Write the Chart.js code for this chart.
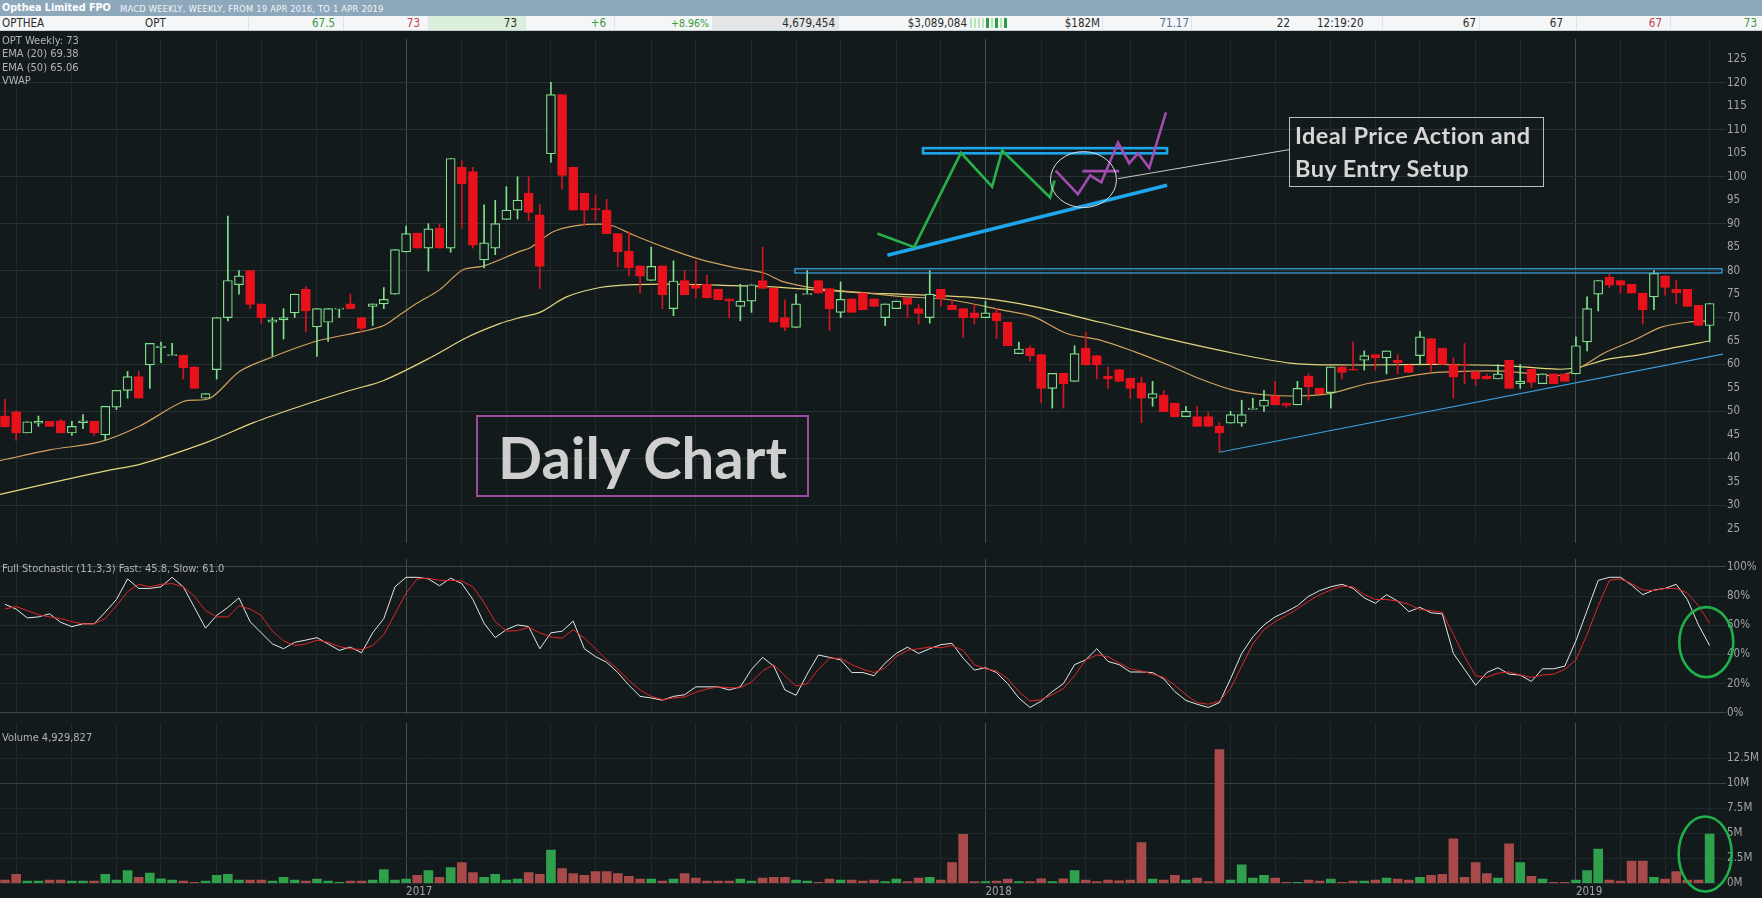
<!DOCTYPE html>
<html>
<head>
<meta charset="utf-8">
<title>Opthea Limited FPO - weekly</title>
<script src="https://cdn.jsdelivr.net/npm/chart.js@4.4.1/dist/chart.umd.min.js"></script>
<style>
  html, body { margin: 0; padding: 0; background: #131a1c; }
  #page { position: relative; width: 1762px; height: 898px; overflow: hidden; background: #131a1c;
          font-family: 'DejaVu Sans Condensed', 'Liberation Sans Narrow', 'Liberation Sans', sans-serif; }
  canvas { position: absolute; left: 0; }
  #mainChart { top: 31px; }
  #stochChart { top: 551px; }
  #volChart { top: 715px; }

  /* ---------- header ---------- */
  .hdr1 { position: absolute; left: 0; top: 0; width: 1762px; height: 16px; background: #8ea8bb; }
  .hdr1 .name { position: absolute; left: 2px; top: 0; line-height: 16px; font-size: 10.7px; font-weight: bold; color: #fff; }
  .hdr1 .sub { position: absolute; left: 120px; top: 1px; line-height: 16px; font-size: 9.3px; color: #f2f5f7; letter-spacing: 0.2px; }
  .hdr2 { position: absolute; left: 0; top: 16px; width: 1762px; height: 15px; background: #f4f6f7; border-bottom: 1px solid #c6ccd1; box-sizing: border-box; }
  .cell { position: absolute; top: 0; height: 14px; line-height: 14px; font-size: 11.5px; color: #2b2b2b;
          text-align: right; box-sizing: border-box; white-space: nowrap; border-left: 1px solid #dfe3e6; }
  .cell.l { text-align: left; border-left: none; }
  .g { color: #3a9a3c; }
  .r { color: #c2404f; }
  .spark { position: absolute; top: 2px; width: 2px; height: 10px; }

  /* ---------- panel texts ---------- */
  .lbl { position: absolute; left: 2px; font-size: 11px; line-height: 12px; color: #b3b3b3; white-space: nowrap; }

  /* ---------- annotation boxes ---------- */
  .daily { position: absolute; left: 476px; top: 415px; width: 333px; height: 82px; box-sizing: border-box;
           border: 2px solid #9b4c9d; display: flex; align-items: center; justify-content: center;
           font-family: Lato, 'Open Sans', sans-serif; font-weight: bold; font-size: 58px; color: #cfcfcf; }
  .ideal { position: absolute; left: 1289px; top: 117px; width: 255px; height: 70px; box-sizing: border-box;
           border: 1px solid #bdbdbd; padding: 1px 0 0 5px; letter-spacing: 0.4px;
           font-family: Lato, 'Open Sans', sans-serif; font-weight: bold; font-size: 23.5px; line-height: 32.5px; color: #d6d6d6; }
</style>
</head>
<body>
<div id="page">
  <canvas id="mainChart" width="1762" height="520"></canvas>
  <canvas id="volChart" width="1762" height="183"></canvas>
  <canvas id="stochChart" width="1762" height="171"></canvas>

  <div class="hdr1">
    <span class="name">Opthea Limited FPO</span>
    <span class="sub">MACD WEEKLY, WEEKLY, FROM 19 APR 2016, TO 1 APR 2019</span>
  </div>
  <div class="hdr2">
    <div class="cell l" style="left:2px;width:144px;">OPTHEA</div>
    <div class="cell l" style="left:145px;width:102px;">OPT</div>
    <div class="cell g" style="left:248px;width:95px;padding-right:8px;">67.5</div>
    <div class="cell r" style="left:343px;width:85px;padding-right:8px;">73</div>
    <div class="cell" style="left:428px;width:97px;padding-right:8px;background:#dcefdc;">73</div>
    <div class="cell g" style="left:525px;width:89px;padding-right:8px;">+6</div>
    <div class="cell g" style="left:614px;width:98px;padding-right:3px;font-size:10.5px;">+8.96%</div>
    <div class="cell" style="left:712px;width:126px;padding-right:3px;background:#e4e6e7;">4,679,454</div>
    <div class="cell" style="left:838px;width:131px;padding-right:2px;">$3,089,084</div>
    <div class="cell" style="left:1009px;width:93px;padding-right:2px;border-left:none;">$182M</div>
    <div class="cell" style="left:1102px;width:89px;padding-right:2px;color:#55708c;">71.17</div>
    <div class="cell" style="left:1191px;width:102px;padding-right:3px;">22</div>
    <div class="cell l" style="left:1317px;width:65px;">12:19:20</div>
    <div class="cell" style="left:1382px;width:97px;padding-right:3px;">67</div>
    <div class="cell" style="left:1479px;width:97px;padding-right:13px;">67</div>
    <div class="cell r" style="left:1576px;width:94px;padding-right:8px;">67</div>
    <div class="cell g" style="left:1670px;width:92px;padding-right:5px;">73</div>
    <span class="spark" style="left:970px;background:#b9e4b9;"></span>
    <span class="spark" style="left:974px;background:#b9e4b9;"></span>
    <span class="spark" style="left:978px;background:#b9e4b9;"></span>
    <span class="spark" style="left:982px;background:#b9e4b9;"></span>
    <span class="spark" style="left:986px;width:3px;background:#2c9e48;"></span>
    <span class="spark" style="left:991px;background:#b9e4b9;"></span>
    <span class="spark" style="left:995px;width:3px;background:#2c9e48;"></span>
    <span class="spark" style="left:1000px;background:#b9e4b9;"></span>
    <span class="spark" style="left:1004px;width:3px;background:#2c9e48;"></span>
  </div>

  <div class="lbl" style="top:35px;">OPT Weekly: 73</div>
  <div class="lbl" style="top:48px;">EMA (20) 69.38</div>
  <div class="lbl" style="top:61.5px;">EMA (50) 65.06</div>
  <div class="lbl" style="top:75px;">VWAP</div>
  <div class="lbl" style="top:563px;">Full Stochastic (11,3,3) Fast: 45.8, Slow: 61.0</div>
  <div class="lbl" style="top:732px;">Volume 4,929,827</div>

  <div class="daily">Daily Chart</div>
  <div class="ideal">Ideal Price Action and<br>Buy Entry Setup</div>
</div>

<script>
// =========================================================
// OPT weekly — candles, EMAs, full stochastic, volume
// =========================================================

// ---------- Data ----------
var weekStart = Date.UTC(2016, 3, 18);   // first weekly bar

var opens = [49.0,49.9,45.4,47.5,47.9,48.0,45.4,47.6,47.9,45.0,
  50.9,54.5,57.4,59.9,63.6,61.9,62.0,59.5,52.8,58.9,
  70.0,77.0,80.0,72.9,69.0,69.5,71.0,76.0,68.0,69.0,
  71.8,72.9,70.0,72.4,72.9,75.0,84.0,88.0,84.8,89.0,
  84.8,102.0,101.1,82.3,84.8,90.9,92.9,96.5,91.9,104.9,
  117.5,102.0,96.5,93.2,92.9,87.9,84.1,81.0,77.9,81.0,
  71.9,77.9,76.9,77.1,76.0,74.0,72.4,73.5,77.9,76.3,
  70.0,67.9,74.9,77.9,76.2,71.1,74.0,75.2,74.0,70.0,
  71.9,74.1,71.9,70.0,76.0,72.6,71.9,71.0,70.0,71.0,
  69.0,62.3,63.5,62.1,54.9,58.1,56.4,63.5,61.9,57.5,
  58.9,57.1,56.1,52.8,53.5,51.8,48.9,48.9,48.9,46.9,
  47.5,47.5,50.4,51.1,53.3,51.8,51.4,57.5,54.9,54.0,
  59.5,59.0,60.9,62.1,61.4,60.9,59.9,61.9,65.5,63.5,
  60.0,60.0,58.5,57.5,56.9,60.9,55.9,59.0,55.9,58.0,
  58.0,58.0,64.8,75.0,78.6,77.9,77.1,75.2,74.4,78.9,
  76.0,76.0,72.6,68.3];

var highs = [52.6,50.2,47.8,49.0,47.9,48.3,47.9,49.3,47.9,51.1,
  54.5,58.5,58.5,64.5,64.8,64.5,62.0,59.5,53.8,70.0,
  91.6,80.0,80.0,72.9,70.0,71.9,75.0,76.6,71.9,71.9,
  71.9,75.0,70.0,72.9,76.4,84.5,89.5,88.0,90.0,90.0,
  103.9,103.4,102.0,94.0,95.0,97.9,100.0,100.0,94.1,120.1,
  117.5,102.0,96.5,96.2,95.2,87.9,88.3,81.0,85.0,81.0,
  82.1,80.0,82.1,79.0,76.0,74.0,77.1,77.0,85.0,76.3,
  73.8,75.0,80.0,77.9,76.2,77.6,74.0,75.2,74.0,72.9,
  73.5,74.1,72.8,80.0,76.0,73.8,71.9,72.8,73.5,71.9,
  69.0,64.8,64.0,62.1,58.1,58.1,64.0,66.9,61.9,59.5,
  58.9,57.1,57.3,56.4,54.5,51.8,51.1,51.1,49.8,47.6,
  50.0,52.4,52.8,54.5,56.4,51.8,56.4,58.0,54.9,59.5,
  59.5,64.8,62.9,62.1,62.9,62.1,59.9,67.0,65.5,63.5,
  61.4,64.5,58.5,58.0,60.0,60.9,60.0,59.0,58.0,58.0,
  58.0,65.9,74.4,77.9,79.3,77.9,77.1,75.2,80.0,78.9,
  77.9,76.0,72.6,73.0];

var lows = [46.7,43.8,45.4,46.8,46.8,45.4,44.9,46.3,44.9,43.8,
  50.4,52.8,52.8,54.9,60.4,61.9,56.9,54.9,52.8,56.9,
  69.3,75.0,71.9,68.8,61.7,65.4,70.0,66.9,61.7,64.9,
  70.0,71.9,66.9,68.3,71.9,75.0,84.0,84.8,79.9,84.8,
  83.9,89.0,84.8,80.6,83.4,90.9,91.0,90.7,76.2,103.1,
  97.4,92.9,89.6,90.7,87.9,80.8,78.8,75.2,77.9,71.9,
  70.4,74.8,74.2,74.2,73.8,70.0,69.3,71.1,76.2,69.0,
  67.2,67.9,74.9,75.2,67.3,70.0,71.1,71.7,72.4,68.3,
  71.9,70.0,68.6,68.8,72.4,71.7,65.7,68.6,70.0,65.5,
  64.0,62.3,60.7,51.8,50.7,50.7,56.4,59.9,56.9,54.9,
  56.4,52.8,47.6,51.1,49.9,48.9,48.9,46.8,46.8,41.3,
  47.5,46.8,50.4,50.0,51.4,50.9,51.4,52.4,53.8,50.7,
  56.9,58.8,58.8,58.8,58.0,58.0,58.3,59.9,58.5,60.0,
  52.8,55.9,55.5,56.9,56.9,54.9,54.9,55.2,55.9,55.9,
  56.4,58.0,62.9,71.4,76.4,75.2,75.2,68.6,71.7,74.8,
  73.0,72.4,68.3,64.8];

var closes = [46.7,45.4,47.8,47.9,46.8,45.4,46.8,48.0,45.4,51.1,
  54.5,57.4,52.8,64.5,63.9,62.0,59.3,54.9,53.8,70.0,
  77.9,78.9,72.8,70.0,69.5,70.0,75.0,71.4,71.9,71.9,
  71.9,71.9,67.7,72.9,73.9,84.5,87.9,84.8,88.9,84.8,
  103.9,98.5,85.4,85.9,90.0,92.9,95.0,92.4,80.9,117.5,
  100.3,92.9,92.9,93.0,87.9,84.0,80.6,78.8,80.9,74.8,
  77.8,74.8,76.2,74.2,73.8,73.5,73.5,77.0,76.2,69.0,
  67.9,72.9,75.0,75.2,71.9,73.9,71.1,71.7,72.4,72.9,
  73.5,72.8,70.9,75.0,74.1,71.7,69.9,69.9,71.0,69.3,
  64.0,63.3,61.9,54.9,58.1,55.9,62.3,59.9,59.9,56.9,
  56.4,54.9,52.8,53.8,49.9,48.9,50.0,46.8,46.8,45.4,
  49.3,49.3,50.7,52.4,51.4,51.3,54.9,55.3,53.8,59.5,
  58.3,58.8,61.9,61.4,62.9,60.4,58.3,65.9,60.2,60.0,
  57.3,59.9,56.9,56.9,58.0,54.9,56.4,56.2,58.0,55.9,
  56.4,64.0,71.9,77.9,76.9,76.9,75.2,71.7,79.4,76.4,
  75.3,72.4,68.3,73.0];

// volume in millions
var volumes = [0.32,0.89,0.22,0.22,0.32,0.32,0.22,0.22,0.22,0.89,
  0.32,1.27,0.6,1.02,0.44,0.32,0.22,0.1,0.22,0.79,
  0.89,0.32,0.32,0.32,0.22,0.6,0.32,0.22,0.41,0.22,
  0.1,0.22,0.22,0.32,1.37,0.32,0.41,0.79,1.27,0.6,
  1.56,2.06,1.08,0.6,0.89,0.32,0.41,1.08,0.89,3.33,
  1.46,0.98,0.79,1.17,1.17,0.98,0.7,0.41,0.41,0.22,
  0.41,0.98,0.51,0.22,0.22,0.22,0.41,0.22,0.51,0.6,
  0.6,0.32,0.22,0.1,0.41,0.32,0.32,0.22,0.32,0.16,
  0.41,0.16,0.51,0.6,0.32,2.06,4.89,0.16,0.16,0.22,
  0.41,0.16,0.16,0.44,0.16,0.44,1.27,0.32,0.16,0.32,
  0.25,0.32,4.06,0.41,0.32,0.79,0.32,0.51,0.16,13.37,
  0.32,1.84,0.51,0.79,0.51,0.1,0.1,0.32,0.22,0.41,
  0.1,0.22,0.22,0.32,0.51,0.41,0.32,0.6,0.79,0.89,
  4.44,0.6,2.06,0.98,0.51,3.94,2.06,0.7,0.41,0.1,
  0.1,0.32,1.27,3.43,0.32,0.22,2.22,2.22,0.6,0.41,
  1.17,0.32,0.32,4.93];

var fastK = [74.3,71,65,65.7,67.8,62,59,61,61,69,
  77.6,91.7,85.2,85.2,86.3,92.8,86.3,72.2,58,66.7,
  72.2,78.7,62.4,54.8,47.2,43.9,48.3,49.8,51.5,47.2,
  42.8,45,41.1,54.8,64.6,86.3,92.8,92.8,91.7,87,
  92.2,88.5,77.6,61.3,51.5,57,60.2,59.1,43.9,54.8,
  55.9,62.8,43.9,38.5,34.6,27.6,18.9,11.3,10.2,8.7,
  11.3,12.4,17.8,17.8,17.8,15.7,17.8,29.8,38,32,
  15.7,12,26.5,39.6,38,36.3,27.6,27.6,25.4,34.1,
  40.7,45,40.7,43.9,46.7,47.6,37.4,29.3,30.9,27.6,
  20,10.2,3.7,8,14.6,20,33,36.3,43.9,35.2,
  33,28,28,27.6,23.3,14.6,8.5,5.9,3.7,7,
  23.3,40.7,52,60.2,65.7,69.3,73.3,79.8,83.7,86.3,
  88,85.2,78.7,75,80.9,76.5,69.3,72.2,68.5,67.8,
  40.7,29.8,18.9,27.6,30.9,26.5,25.9,21.5,30.2,30.2,
  32,49.3,70,90.7,92.8,92.8,87.4,80.9,84.1,85.2,
  88,77.6,60.2,46.1];

var slowD = [71.1,72.8,70,67.2,65.7,64.6,62.4,60.9,60.9,64.6,
  73.3,83,88,86.3,88,88.5,86.3,79.8,70,65.7,
  65.7,73.3,71.1,66.7,55.9,49.3,46.1,47.2,49.8,48.3,
  45.4,43.9,43.3,46.1,53.7,67.8,82,91.7,92.2,90.7,
  90.7,90.2,86.3,75.4,62.4,55.9,56.3,58.5,54.8,52,
  51.1,57,51.1,43.9,36.3,29.8,22.2,15.7,11.3,9.1,
  10.2,10.9,14.1,16.3,17.8,17.2,17.2,21.1,28.7,33,
  25.4,18.3,20,29.8,37.4,37.4,33,29.8,27.6,30.9,
  38.5,42.8,43.9,45,44.6,46.1,42.8,33,30.2,28.7,
  23.3,14.6,8,9.1,12.4,16.7,25.4,36.3,39.6,38.5,
  34.1,30.2,28.7,26.5,24.3,18.9,12.4,7,5.9,8,
  16.7,32,47.2,57,62.4,66.7,71.1,76.5,80.9,84.1,
  86.7,86.3,80.9,77.6,77.6,76.5,74.3,70.7,70,68.9,
  53.7,38.5,25.4,24.3,27.2,28,25.9,24.3,25.9,26.5,
  29.8,36.3,53.7,73.3,90.7,91.7,88.5,84.1,83.7,85.2,
  85.2,82,73.3,61.3];

// EMA lines sampled along the curves (bar index, price)
var ema20Idx = [-0.45,4.0,8.5,12.1,16.0,18.4,21.1,24.1,28.0,32.2,34.0,35.5,37.0,39.0,41.1,43.0,46.2,47.1,49.2,51.3,
  53.4,54.6,56.4,59.4,62.4,65.4,68.1,69.9,72.9,77.4,80.3,84.8,89.3,92.3,95.3,98.3,101.3,104.3,107.3,110.3,
  113.3,116.2,118.9,122.2,125.5,128.5,134.5,139.0,140.5,142.0,143.5,146.5,148.6,151.0,153.0];
var ema20Val = [39.5,41.8,43.5,46.9,52.1,52.8,58.6,61.7,65.0,67.1,68.3,70.7,73.1,75.9,80.2,81.0,84.1,84.8,88.3,89.6,
  89.9,89.5,87.6,84.8,82.4,80.7,79.5,77.6,76.2,75.2,74.5,73.8,71.7,70.2,66.6,65.2,62.8,60.0,56.9,54.5,
  53.5,53.3,53.8,55.9,57.3,58.3,58.6,57.6,58.3,60.2,62.4,65.5,67.9,69.0,69.3];
var ema50Idx = [-0.45,4.5,9.6,12.1,18.1,22.3,26.5,31.0,34.0,38.3,41.4,44.4,46.2,48.0,50.4,53.4,56.4,60.9,65.4,68.4,
  72.9,77.4,80.3,87.8,92.3,98.3,104.3,110.3,115.3,119.5,128.8,134.8,139.3,141.1,143.8,146.8,149.8,153.0];
var ema50Val = [32.3,35.0,37.6,38.7,43.4,47.6,51.1,54.5,56.6,61.6,65.7,68.7,70.0,71.1,74.4,76.4,77.0,77.1,76.8,76.6,
  75.9,75.2,75.0,74.1,72.4,69.0,65.5,62.4,60.3,59.9,60.0,59.7,59.0,59.3,61.1,62.1,63.6,65.0];

// axis ticks
var priceTicks = [25,30,35,40,45,50,55,60,65,70,75,80,85,90,95,100,105,110,115,120,125];
var stochTicks = [0,20,40,60,80,100];
var volTicks = [0,2.5,5,7.5,10,12.5];
var volTickLabels = ["0M","2.5M","5M","7.5M","10M","12.5M"];
var yearLabels = ["2017","2018","2019"];

// hand-drawn annotations (bar index, price)
var resistanceFrom = 70.9;
var resistanceBand = [79.5, 80.4];
var supportIdx = [109, 154.2];
var supportVal = [41.3, 62.2];
var sketchGreenIdx = [78.3, 81.6, 85.8, 88.6, 89.5, 93.8, 94.2];
var sketchGreenVal = [87.9, 85.0, 105.1, 97.9, 105.6, 95.6, 99.2];
var sketchPurpleIdx = [94.3, 96.3, 97.4, 98.4, 99.9, 100.9, 101.7, 102.7, 104.2];
var sketchPurpleVal = [101.3, 96.3, 100.3, 98.8, 107.3, 102.9, 105.0, 101.9, 113.7];
var sketchMidIdx = [96.7, 100.0];
var sketchMidVal = 101.2;
var sketchTopIdx = [82.4, 104.3];
var sketchTopBand = [105.0, 106.1];
var sketchBaseIdx = [79.2, 104.3];
var sketchBaseVal = [83.3, 98.2];
var focusIdx = 96.8, focusVal = 99.4;
var calloutIdx = [99.9, 115.3];
var calloutVal = [99.6, 105.8];
var stochMarkIdx = 152.7, stochMarkVal = 48.4;
var volMarkIdx = 152.6, volMarkVal = 2.93;

(function () {
    "use strict";

    var UP = "#80e08c", DOWN = "#e8121c", DOWN_WICK = "#d6141f";
    var BG = "#131a1c";
    var FONT = "'DejaVu Sans Condensed', 'Liberation Sans Narrow', 'Liberation Sans', sans-serif";
    var X_MIN = -0.45, X_MAX = 154.2;
    var AXIS_W = 39;

    function isUp(i) { return closes[i] >= opens[i]; }

    // ---------- month / year grid: week holding the last day of a month ----------
    var DAY = 864e5;
    var monthTicks = [], yearTicks = [];
    for (var i = 0; i < opens.length; i++) {
        var a = new Date(weekStart + i * 7 * DAY);
        var b = new Date(weekStart + (i + 1) * 7 * DAY);
        if (a.getUTCMonth() !== b.getUTCMonth()) {
            monthTicks.push(i);
            if (b.getUTCMonth() === 0) yearTicks.push(i);
        }
    }

    function xAxis(height, showYears) {
        return {
            type: "linear", min: X_MIN, max: X_MAX, offset: false,
            afterBuildTicks: function (sc) { sc.ticks = monthTicks.map(function (v) { return { value: v }; }); },
            afterFit: function (sc) { sc.height = height; },
            grid: {
                offset: false, drawTicks: false,
                color: function (c) { return c.tick && yearTicks.indexOf(c.tick.value) >= 0 ? "#434e52" : "#1f282b"; }
            },
            border: { display: false },
            ticks: {
                display: showYears, autoSkip: false, maxRotation: 0, align: "start", padding: 2,
                color: "#a4a4a4", font: { family: FONT, size: 11.5 },
                callback: function (v) { var k = yearTicks.indexOf(v); return k >= 0 ? yearLabels[k] : ""; }
            }
        };
    }

    function yAxis(min, max, values, label, gridColor) {
        return {
            position: "right", min: min, max: max,
            afterBuildTicks: function (sc) { sc.ticks = values.map(function (v) { return { value: v }; }); },
            afterFit: function (sc) { sc.width = AXIS_W; },
            grid: { color: gridColor, tickColor: gridColor, tickLength: 3 },
            border: { display: false },
            ticks: { color: "#a4a4a4", padding: 1, font: { family: FONT, size: 11.5 }, callback: label }
        };
    }

    function baseOptions(scales) {
        return {
            responsive: false, animation: false, devicePixelRatio: 1, events: [],
            layout: { padding: 0 },
            plugins: { legend: { display: false }, tooltip: { enabled: false } },
            scales: scales
        };
    }

    function pts(xs, ys) { return xs.map(function (x, k) { return { x: x, y: ys[k] }; }); }

    function polyline(ctx, chart, xs, ys) {
        var sx = chart.scales.x, sy = chart.scales.y;
        ctx.beginPath();
        xs.forEach(function (x, k) {
            var px = sx.getPixelForValue(x), py = sy.getPixelForValue(ys[k]);
            if (k === 0) ctx.moveTo(px, py); else ctx.lineTo(px, py);
        });
        ctx.stroke();
    }

    function ring(chart, xi, yv, rx, ry) {
        var ctx = chart.ctx;
        ctx.save();
        ctx.strokeStyle = "#1fb04a";
        ctx.lineWidth = 2.6;
        ctx.beginPath();
        ctx.ellipse(chart.scales.x.getPixelForValue(xi), chart.scales.y.getPixelForValue(yv), rx, ry, 0, 0, Math.PI * 2);
        ctx.stroke();
        ctx.restore();
    }

    // ---------- Price panel ----------
    var mainOverlay = {
        id: "mainOverlay",
        afterDatasetsDraw: function (chart) {
            var ctx = chart.ctx, area = chart.chartArea, sx = chart.scales.x, sy = chart.scales.y;
            ctx.save();
            ctx.beginPath();
            ctx.rect(area.left, area.top, area.width, area.height);
            ctx.clip();
            ctx.lineJoin = "miter";

            // 80 resistance band
            ctx.strokeStyle = "#3aa6e6";
            ctx.lineWidth = 1.2;
            var rx0 = sx.getPixelForValue(resistanceFrom);
            var ry0 = sy.getPixelForValue(resistanceBand[1]), ry1 = sy.getPixelForValue(resistanceBand[0]);
            ctx.strokeRect(rx0, ry0, area.right - rx0 - 1, ry1 - ry0);

            // rising support
            ctx.strokeStyle = "#3a9cdc";
            ctx.lineWidth = 1.2;
            polyline(ctx, chart, supportIdx, supportVal);

            // sketch: thick top band and rising base
            ctx.strokeStyle = "#1ea6ea";
            ctx.lineWidth = 2.6;
            var tx0 = sx.getPixelForValue(sketchTopIdx[0]), tx1 = sx.getPixelForValue(sketchTopIdx[1]);
            var ty0 = sy.getPixelForValue(sketchTopBand[1]), ty1 = sy.getPixelForValue(sketchTopBand[0]);
            ctx.strokeRect(tx0, ty0, tx1 - tx0, ty1 - ty0);
            ctx.lineWidth = 3.6;
            polyline(ctx, chart, sketchBaseIdx, sketchBaseVal);

            // sketch: green then purple price path
            ctx.lineWidth = 2.6;
            ctx.strokeStyle = "#27b04a";
            polyline(ctx, chart, sketchGreenIdx, sketchGreenVal);
            ctx.strokeStyle = "#a24bb0";
            polyline(ctx, chart, sketchPurpleIdx, sketchPurpleVal);
            polyline(ctx, chart, sketchMidIdx, [sketchMidVal, sketchMidVal]);

            // focus ring and callout leader
            ctx.strokeStyle = "#d8d8d8";
            ctx.lineWidth = 1;
            ctx.beginPath();
            ctx.ellipse(sx.getPixelForValue(focusIdx), sy.getPixelForValue(focusVal), 33, 28, 0, 0, Math.PI * 2);
            ctx.stroke();
            ctx.strokeStyle = "#c8c8c8";
            polyline(ctx, chart, calloutIdx, calloutVal);
            ctx.restore();
        }
    };

    new Chart(document.getElementById("mainChart"), {
        type: "bar",
        data: {
            datasets: [
                {
                    label: "Body",
                    data: opens.map(function (o, k) { return { x: k, y: [o, closes[k]] }; }),
                    backgroundColor: function (c) { return isUp(c.dataIndex) ? BG : DOWN; },
                    borderColor: function (c) { return isUp(c.dataIndex) ? UP : DOWN; },
                    borderWidth: 1.2, borderSkipped: false, barThickness: 9, minBarLength: 1,
                    grouped: false, order: 0
                },
                {
                    label: "Range",
                    data: lows.map(function (l, k) { return { x: k, y: [l, highs[k]] }; }),
                    backgroundColor: function (c) { return isUp(c.dataIndex) ? UP : DOWN_WICK; },
                    borderWidth: 0, barThickness: 1, grouped: false, order: 1
                },
                {
                    type: "line", label: "EMA (20)", data: pts(ema20Idx, ema20Val),
                    borderColor: "#d0a25c", borderWidth: 1.2, pointRadius: 0, tension: 0.3, order: 2
                },
                {
                    type: "line", label: "EMA (50)", data: pts(ema50Idx, ema50Val),
                    borderColor: "#e3d67e", borderWidth: 1.2, pointRadius: 0, tension: 0.3, order: 2
                }
            ]
        },
        options: baseOptions({
            x: xAxis(0, false),
            y: yAxis(21.94, 129.38, priceTicks, function (v) { return v; },
                function (c) { return c.tick && c.tick.value % 10 === 0 ? "#283235" : "rgba(0,0,0,0)"; })
        }),
        plugins: [mainOverlay]
    });

    // ---------- Full stochastic panel ----------
    new Chart(document.getElementById("stochChart"), {
        type: "line",
        data: {
            datasets: [
                { label: "Slow", data: slowD.map(function (v, k) { return { x: k, y: v }; }),
                  borderColor: "#e0262a", borderWidth: 1, pointRadius: 0, tension: 0 },
                { label: "Fast", data: fastK.map(function (v, k) { return { x: k, y: v }; }),
                  borderColor: "#e6e6e6", borderWidth: 1, pointRadius: 0, tension: 0 }
            ]
        },
        options: baseOptions({
            x: xAxis(7, false),
            y: yAxis(-0.84, 105.4, stochTicks, function (v) { return v + "%"; },
                function (c) { return c.tick && (c.tick.value === 0 || c.tick.value === 100) ? "#3d474a" : "#222b2e"; })
        }),
        plugins: [{ id: "stochRing", afterDraw: function (chart) { ring(chart, stochMarkIdx, stochMarkVal, 27, 35); } }]
    });

    // ---------- Volume panel ----------
    new Chart(document.getElementById("volChart"), {
        type: "bar",
        data: {
            datasets: [{
                label: "Volume",
                data: volumes.map(function (v, k) { return { x: k, y: v }; }),
                backgroundColor: function (c) { return isUp(c.dataIndex) ? "#2fa04c" : "#a84a4a"; },
                borderWidth: 0, barThickness: 9, grouped: false
            }]
        },
        options: baseOptions({
            x: xAxis(14.7, true),
            y: yAxis(0, 16.03, volTicks, function (v) { return volTickLabels[volTicks.indexOf(v)]; },
                function (c) { return c.tick && c.tick.value === 10 ? "#384245" : "#1f282b"; })
        }),
        plugins: [{ id: "volRing", afterDraw: function (chart) { ring(chart, volMarkIdx, volMarkVal, 26.5, 37.5); } }]
    });
})();
</script>
</body>
</html>
